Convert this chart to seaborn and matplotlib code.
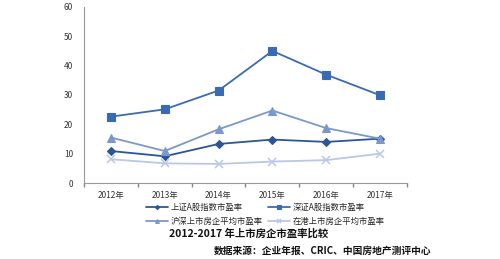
import matplotlib
matplotlib.use("Agg")
import matplotlib.pyplot as plt
import seaborn as sns
import pandas as pd
import numpy as np

years = ["2012年", "2013年", "2014年", "2015年", "2016年", "2017年"]
sh_a = [10.9, 9.1, 13.3, 14.8, 14.0, 15.1]
sz_a = [22.6, 25.1, 31.5, 45.0, 36.9, 29.9]
hs_re = [15.5, 10.9, 18.3, 24.7, 18.7, 15.1]
hk_re = [8.1, 6.7, 6.5, 7.3, 7.8, 10.0]
series_names = ["上证A股指数市盈率", "深证A股指数市盈率", "沪深上市房企平均市盈率", "在港上市房企平均市盈率"]
y_ticks = [0, 10, 20, 30, 40, 50, 60]

sns.set_theme(style="white")
plt.rcParams['font.family'] = ['Noto Sans CJK SC', 'DejaVu Sans']

rows = []
for name, vals in zip(series_names, [sh_a, sz_a, hs_re, hk_re]):
    for i, v in enumerate(vals):
        rows.append({"x": i, "year": years[i], "value": v, "series": name})
df = pd.DataFrame(rows)

colors = {series_names[0]: "#2C5596", series_names[1]: "#3A6BB2",
          series_names[2]: "#7C97CC", series_names[3]: "#B9C8E6"}
markers = {series_names[0]: "D", series_names[1]: "s",
           series_names[2]: "^", series_names[3]: "x"}
msizes = {series_names[0]: 4.2, series_names[1]: 5.5, series_names[2]: 5.5, series_names[3]: 5.5}

fig = plt.figure(figsize=(5.0, 2.59), dpi=100)
ax = fig.add_axes([0.168, 0.2934, 0.646, 0.68])

for name in series_names:
    sub = df[df.series == name]
    sns.lineplot(data=sub, x="x", y="value", ax=ax, color=colors[name],
                 marker=markers[name], markersize=msizes[name], linewidth=1.3,
                 markeredgecolor=colors[name], markeredgewidth=0.8 if name != series_names[3] else 1.1,
                 label=name, legend=False)

ax.set_xlim(-0.5, 5.5)
ax.set_ylim(0, 60)
ax.set_yticks(y_ticks)
ax.set_yticklabels([str(t) for t in y_ticks], fontsize=6, color="#333333")
ax.set_xticks(range(len(years)))
ax.set_xticklabels(years, fontsize=6, color="#333333")
ax.set_xticks(np.arange(-0.5, 6.0, 1.0), minor=True)
ax.tick_params(axis="x", which="major", length=0, pad=6)
ax.tick_params(axis="x", which="minor", length=3, color="#888888", direction="out", bottom=True)
ax.tick_params(axis="y", length=0, pad=8)
ax.set_xlabel("")
ax.set_ylabel("")
for s in ["top", "right"]:
    ax.spines[s].set_visible(False)
for s in ["left", "bottom"]:
    ax.spines[s].set_color("#999999")
    ax.spines[s].set_linewidth(0.8)

handles, labels = ax.get_legend_handles_labels()
order = [0, 2, 1, 3]
leg = fig.legend([handles[i] for i in order], [labels[i] for i in order],
                 loc="upper left", bbox_to_anchor=(0.292, 0.215),
                 ncol=2, fontsize=6, frameon=False, handlelength=2.6,
                 columnspacing=0.6, handletextpad=0.4, labelspacing=0.5,
                 borderaxespad=0, borderpad=0, markerscale=0.5)

fig.text(0.498, 0.1, "2012-2017 年上市房企市盈率比较", ha="center", va="center",
         fontsize=7.5, fontweight="bold", color="#111111")
fig.text(0.862, 0.03, "数据来源：企业年报、CRIC、中国房地产测评中心", ha="right", va="center",
         fontsize=7, fontweight="bold", color="#111111")

fig.savefig("out.png", dpi=100)
